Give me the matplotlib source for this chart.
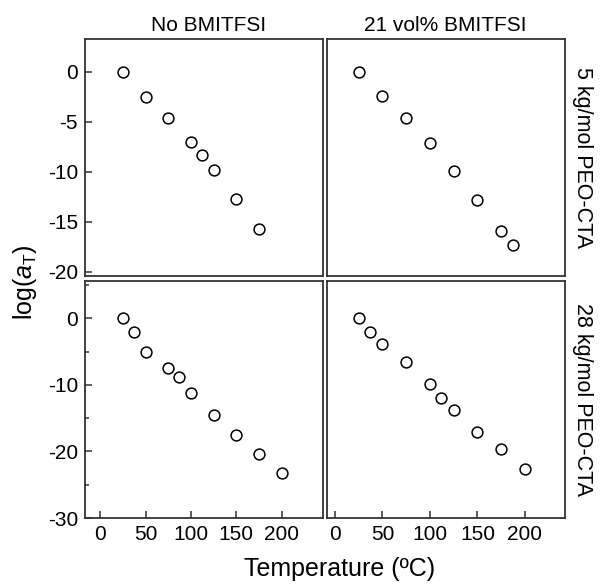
import matplotlib
matplotlib.use("Agg")
import matplotlib.pyplot as plt
from matplotlib.ticker import MultipleLocator

plt.rcParams["font.family"] = ["Liberation Sans", "DejaVu Sans"]
plt.rcParams["mathtext.fontset"] = "custom"
plt.rcParams["mathtext.rm"] = "Liberation Sans"
plt.rcParams["mathtext.it"] = "Liberation Sans:italic"
plt.rcParams["axes.unicode_minus"] = False

# 5 kg/mol PEO-CTA, no BMITFSI
t_5k_neat = [25, 50, 75, 100, 112, 125, 150, 175]
a_5k_neat = [0.0, -2.5, -4.6, -7.0, -8.3, -9.8, -12.7, -15.7]
# 5 kg/mol PEO-CTA, 21 vol% BMITFSI
t_5k_il = [25, 50, 75, 100, 125, 150, 175, 187]
a_5k_il = [0.0, -2.4, -4.6, -7.1, -9.9, -12.8, -15.9, -17.3]
# 28 kg/mol PEO-CTA, no BMITFSI
t_28k_neat = [25, 37, 50, 75, 87, 100, 125, 150, 175, 200]
a_28k_neat = [0.0, -2.0, -5.0, -7.5, -8.8, -11.2, -14.5, -17.6, -20.4, -23.2]
# 28 kg/mol PEO-CTA, 21 vol% BMITFSI
t_28k_il = [25, 37, 50, 75, 100, 112, 125, 150, 175, 200]
a_28k_il = [0.0, -2.1, -3.8, -6.6, -9.9, -11.9, -13.8, -17.1, -19.6, -22.6]

col_titles = ["No BMITFSI", "21 vol% BMITFSI"]
row_labels = ["5 kg/mol PEO-CTA", "28 kg/mol PEO-CTA"]

W, H = 602, 584
fig = plt.figure(figsize=(W / 100, H / 100), dpi=100)

edge = "#333333"
cols = [(85, 322.5), (327, 564.5)]
rows = [(39, 276), (281, 518)]
xlims = [(-16.8, 245), (-8.4, 241.7)]
ylims = [(-20.45, 3.3), (-30, 5.6)]
title_x = [0.52, 0.5]
data = [[(t_5k_neat, a_5k_neat), (t_5k_il, a_5k_il)],
        [(t_28k_neat, a_28k_neat), (t_28k_il, a_28k_il)]]

for r, (top, bot) in enumerate(rows):
    for c, (left, right) in enumerate(cols):
        ax = fig.add_axes([left / W, 1 - bot / H, (right - left) / W, (bot - top) / H])
        x, y = data[r][c]
        ax.plot(x, y, "o", ms=7.8, mfc="white", mec="black", mew=1.1, ls="none")
        ax.set_xlim(*xlims[c])
        ax.set_ylim(*ylims[r])
        for s in ax.spines.values():
            s.set_color(edge)
            s.set_linewidth(1.3)
        ax.tick_params(direction="in", length=5, width=1.1, color=edge,
                       labelsize=15, pad=5)
        ax.tick_params(which="minor", direction="in", length=3, width=1.1, color=edge)
        ax.set_xticks([0, 50, 100, 150, 200])
        if r == 0:
            ax.set_yticks([0, -5, -10, -15, -20])
            ax.tick_params(axis="x", bottom=False, labelbottom=False)
            ax.set_title(col_titles[c], fontsize=15, pad=6, x=title_x[c])
        else:
            ax.set_yticks([0, -10, -20, -30])
            ax.yaxis.set_minor_locator(MultipleLocator(5))
        if c == 1:
            ax.tick_params(axis="y", which="both", left=False, labelleft=False)
            ax.text(1.075, 0.5, row_labels[r], transform=ax.transAxes, rotation=-90,
                    ha="center", va="center", fontsize=15.5)

fig.text(25 / W, 1 - 282 / H, r"log($a_\mathrm{T}$)", rotation=90,
         ha="center", va="center", fontsize=18)
fig.text(340 / W, 1 - 569 / H, "Temperature (ºC)", ha="center", va="center", fontsize=18)

fig.savefig("out.png", dpi=100)
